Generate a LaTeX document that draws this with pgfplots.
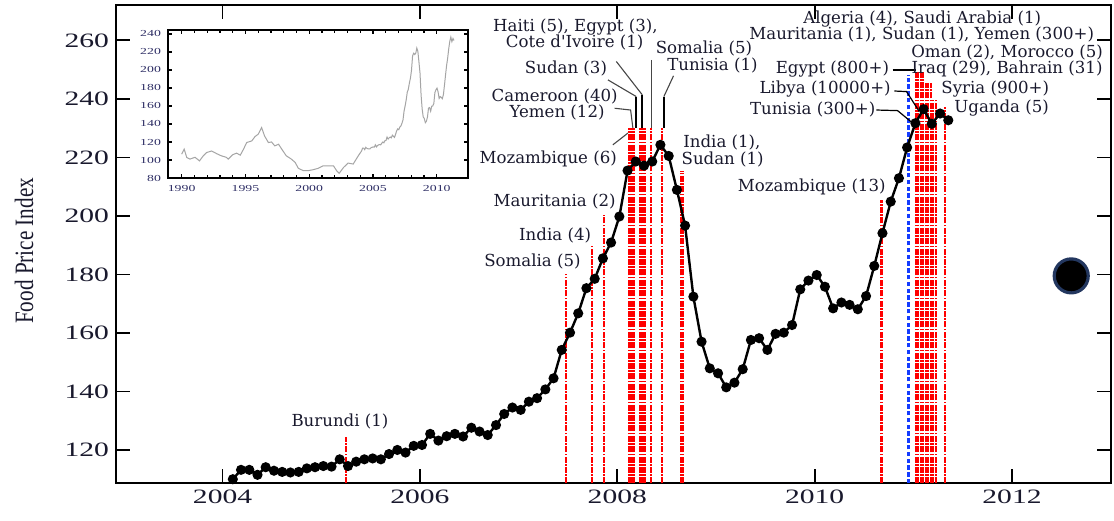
\documentclass[border=0pt]{standalone}
\usepackage{pgfplots}
\pgfplotsset{compat=1.18}
\usepackage{pgfplotstable}
\usepackage{graphicx}
\usepackage{fontspec}
\setmainfont{Liberation Serif}
\newfontfamily\annfont{DejaVu Serif}
\definecolor{txt}{RGB}{25,25,45}
\definecolor{evred}{RGB}{255,0,0}
\definecolor{evblue}{RGB}{20,60,255}
\definecolor{insetgray}{RGB}{165,165,165}
\definecolor{insettxt}{RGB}{45,45,100}
\definecolor{ringblue}{RGB}{35,55,95}
\definecolor{leader}{RGB}{70,70,70}
\tikzset{ann/.style={font=\annfont\fontsize{8.3}{9.5}\selectfont, text=txt, inner sep=0pt, anchor=center}}

\pgfplotstableread{
x y
2004.104 110.0
2004.187 113.2
2004.271 113.2
2004.354 111.5
2004.437 114.1
2004.521 112.9
2004.604 112.5
2004.687 112.3
2004.771 112.5
2004.854 113.7
2004.937 114.1
2005.021 114.5
2005.104 114.3
2005.187 116.8
2005.271 114.5
2005.354 116.0
2005.437 116.8
2005.521 117.1
2005.604 116.8
2005.687 118.6
2005.771 120.0
2005.854 119.1
2005.937 121.4
2006.021 121.7
2006.104 125.5
2006.187 123.2
2006.271 124.7
2006.354 125.5
2006.437 124.6
2006.521 127.6
2006.604 126.3
2006.687 125.1
2006.771 128.5
2006.854 132.3
2006.937 134.5
2007.021 133.7
2007.104 136.5
2007.187 137.7
2007.271 140.7
2007.354 144.5
2007.437 154.2
2007.521 160.1
2007.604 166.7
2007.687 175.3
2007.771 178.5
2007.854 185.5
2007.937 190.9
2008.021 199.8
2008.104 215.5
2008.187 218.6
2008.271 217.2
2008.354 218.6
2008.437 224.3
2008.521 220.5
2008.604 208.9
2008.687 196.7
2008.771 172.4
2008.854 157.0
2008.937 147.9
2009.021 146.2
2009.104 141.4
2009.187 143.0
2009.271 147.6
2009.354 157.6
2009.437 158.2
2009.521 154.2
2009.604 159.7
2009.687 160.1
2009.771 162.7
2009.854 174.9
2009.937 177.9
2010.021 179.8
2010.104 175.8
2010.187 168.4
2010.271 170.4
2010.354 169.6
2010.437 168.1
2010.521 172.6
2010.604 182.9
2010.687 194.1
2010.771 204.9
2010.854 212.9
2010.937 223.4
2011.021 231.7
2011.104 236.5
2011.187 231.5
2011.271 235.0
2011.354 232.7
}\fpi

\pgfplotstableread{
x y
1990.0 106.5
1990.2 112
1990.4 102.8
1990.65 101
1991.05 103
1991.4 99
1991.7 104.7
1991.96 108.3
1992.35 110
1992.75 107
1993.1 104.7
1993.5 103
1993.65 101
1994.0 105.8
1994.3 107.6
1994.6 105.4
1994.85 112
1995.1 119.4
1995.5 121.2
1995.75 126
1996.0 128.6
1996.27 136
1996.5 126.7
1996.8 119.4
1997.05 120
1997.3 115.7
1997.6 117.5
1997.85 112
1998.2 104.7
1998.6 101
1998.9 97.3
1999.15 90.7
1999.55 88.1
1999.9 88.1
2000.3 89.2
2000.7 90.7
2001.1 93.6
2001.5 93.6
2001.9 93.6
2002.15 88.1
2002.35 85.2
2002.7 91.8
2003.05 96.6
2003.45 95.5
2003.85 104.7
2004.104 110.0
}\early

\pgfplotstableread{
x top
2005.25 124.4
2007.477 180.2
2007.743 189.8
2007.864 200.3
2008.119 230.0
2008.145 230.0
2008.170 230.0
2008.231 230.0
2008.256 230.0
2008.281 230.0
2008.344 230.0
2008.455 230.0
2008.643 215.5
2008.663 215.5
2010.678 205.5
2011.024 249.7
2011.050 249.7
2011.075 249.7
2011.100 249.7
2011.126 245.4
2011.151 245.4
2011.176 245.4
2011.201 239.7
2011.227 239.7
2011.320 237.4
}\events

\begin{document}
\begin{tikzpicture}
\begin{axis}[
  scale only axis, width=497.35pt, height=239.15pt,
  xmin=2002.92, xmax=2013.0, ymin=108.6, ymax=272.1,
  xtick={2004,2006,2008,2010,2012},
  ytick={120,140,...,260},
  /pgf/number format/1000 sep={},
  /pgf/number format/assume math mode=true,
  tick align=inside, major tick length=7pt,
  axis line style={line width=0.9pt, black},
  every tick/.style={line width=0.9pt, black},
  tick label style={font=\fontsize{10.2}{12}\selectfont, text=txt},
  xticklabel={\scalebox{1.45}[1]{\pgfmathprintnumber{\tick}}},
  yticklabel={\scalebox{1.45}[1]{\pgfmathprintnumber{\tick}}},
  ylabel={\scalebox{1}[1.25]{Food Price Index}},
  ylabel style={at={(axis description cs:-0.0925,0.486)}, anchor=center, font=\fontsize{10.6}{12}\selectfont, text=txt},
]
% event lines
\addplot[ycomb, evred, line width=1.15pt, dash pattern=on 3pt off 0.7pt on 0.8pt off 0.7pt] table[x=x,y=top]{\events};
\addplot[ycomb, evblue, line width=1.4pt, dash pattern=on 2.2pt off 1.2pt] coordinates {(2010.951,248.2)};
% main series
\addplot[black, line width=1.2pt, mark=*, mark size=1.9pt, mark options={solid, fill=black}] table[x=x,y=y]{\fpi};
% big circle
\addplot[only marks, mark=*, mark size=8.5pt, mark options={fill=black, draw=ringblue, line width=1.6pt}] coordinates {(2012.6,179.5)};

% leader lines
\draw[leader, line width=0.55pt] (axis cs:2007.973,236.8) -- (axis cs:2008.135,236.2) -- (axis cs:2008.158,230.0);
\draw[leader, line width=0.55pt] (axis cs:2007.905,246.5) -- (axis cs:2008.192,240.8);
\draw[black, line width=0.8pt] (axis cs:2008.192,240.8) -- (axis cs:2008.192,230.0);
\draw[leader, line width=0.55pt] (axis cs:2007.99,252.8) -- (axis cs:2008.253,241.4);
\draw[black, line width=0.8pt] (axis cs:2008.253,241.4) -- (axis cs:2008.253,230.0);
\draw[leader, line width=0.55pt] (axis cs:2008.35,253.3) -- (axis cs:2008.35,230.0);
\draw[leader, line width=0.55pt] (axis cs:2008.57,247.9) -- (axis cs:2008.472,240.8);
\draw[black, line width=0.8pt] (axis cs:2008.472,240.8) -- (axis cs:2008.472,230.0);
\draw[leader, line width=0.55pt] (axis cs:2007.955,224.3) -- (axis cs:2008.107,228.3);
\draw[black, line width=0.6pt] (axis cs:2010.79,249.9) -- (axis cs:2011.026,249.9);
\draw[black, line width=0.6pt] (axis cs:2010.807,242.7) -- (axis cs:2010.931,242.5) -- (axis cs:2011.06,235.7);
\draw[black, line width=0.6pt] (axis cs:2010.625,236.2) -- (axis cs:2010.84,236.0) -- (axis cs:2010.98,232.1);

% annotations
\node[ann] at (axis cs:2005.19,129.6) {Burundi (1)};
\node[ann] at (axis cs:2007.14,184.4) {Somalia (5)};
\node[ann] at (axis cs:2007.37,193.2) {India (4)};
\node[ann] at (axis cs:2007.365,205.0) {Mauritania (2)};
\node[ann] at (axis cs:2007.30,219.4) {Mozambique (6)};
\node[ann] at (axis cs:2007.365,240.8) {Cameroon (40)};
\node[ann] at (axis cs:2007.39,235.4) {Yemen (12)};
\node[ann] at (axis cs:2007.48,250.3) {Sudan (3)};
\node[ann] at (axis cs:2007.576,264.4) {Haiti (5), Egypt (3),};
\node[ann] at (axis cs:2007.568,259.2) {Cote d'Ivoire (1)};
\node[ann] at (axis cs:2008.878,257.4) {Somalia (5)};
\node[ann] at (axis cs:2008.965,251.3) {Tunisia (1)};
\node[ann, anchor=west] at (axis cs:2008.665,225.0) {India (1),};
\node[ann, anchor=west] at (axis cs:2008.648,219.4) {Sudan (1)};
\node[ann] at (axis cs:2009.97,210.0) {Mozambique (13)};
\node[ann] at (axis cs:2009.98,236.5) {Tunisia (300+)};
\node[ann] at (axis cs:2010.106,243.3) {Libya (10000+)};
\node[ann] at (axis cs:2010.18,250.2) {Egypt (800+)};
\node[ann] at (axis cs:2011.09,267.4) {Algeria (4), Saudi Arabia (1)};
\node[ann] at (axis cs:2011.085,262.1) {Mauritania (1), Sudan (1), Yemen (300+)};
\node[ann] at (axis cs:2011.95,255.8) {Oman (2), Morocco (5)};
\node[ann] at (axis cs:2011.95,250.2) {Iraq (29), Bahrain (31)};
\node[ann] at (axis cs:2011.83,243.4) {Syria (900+)};
\node[ann] at (axis cs:2011.895,236.8) {Uganda (5)};
\end{axis}

% inset
\begin{axis}[
  at={(26pt,152.65pt)}, anchor=south west,
  scale only axis, width=150pt, height=74pt,
  xmin=1988.93, xmax=2012.45, ymin=80, ymax=244.4,
  xtick={1990,1995,...,2010}, minor x tick num=4,
  ytick={80,100,...,240},
  tick align=inside, major tick length=2.2pt, minor tick length=1.4pt,
  axis line style={line width=0.7pt, black},
  every tick/.style={line width=0.6pt, black},
  /pgf/number format/1000 sep={},
  /pgf/number format/assume math mode=true,
  tick label style={font=\fontsize{4.6}{5}\selectfont, text=insettxt},
  xticklabel={\scalebox{1.5}[1]{\pgfmathprintnumber{\tick}}},
  yticklabel={\scalebox{1.5}[1]{\pgfmathprintnumber{\tick}}},
  axis background/.style={fill=white},
]
\addplot[insetgray, line width=0.5pt] table[x=x,y=y]{\early};
\addplot[insetgray, line width=0.5pt] table[x=x,y=y]{\fpi};
\end{axis}

\pgfresetboundingbox
\path (-58pt,-18.35pt) rectangle (499pt,241.65pt);
\end{tikzpicture}
\end{document}
